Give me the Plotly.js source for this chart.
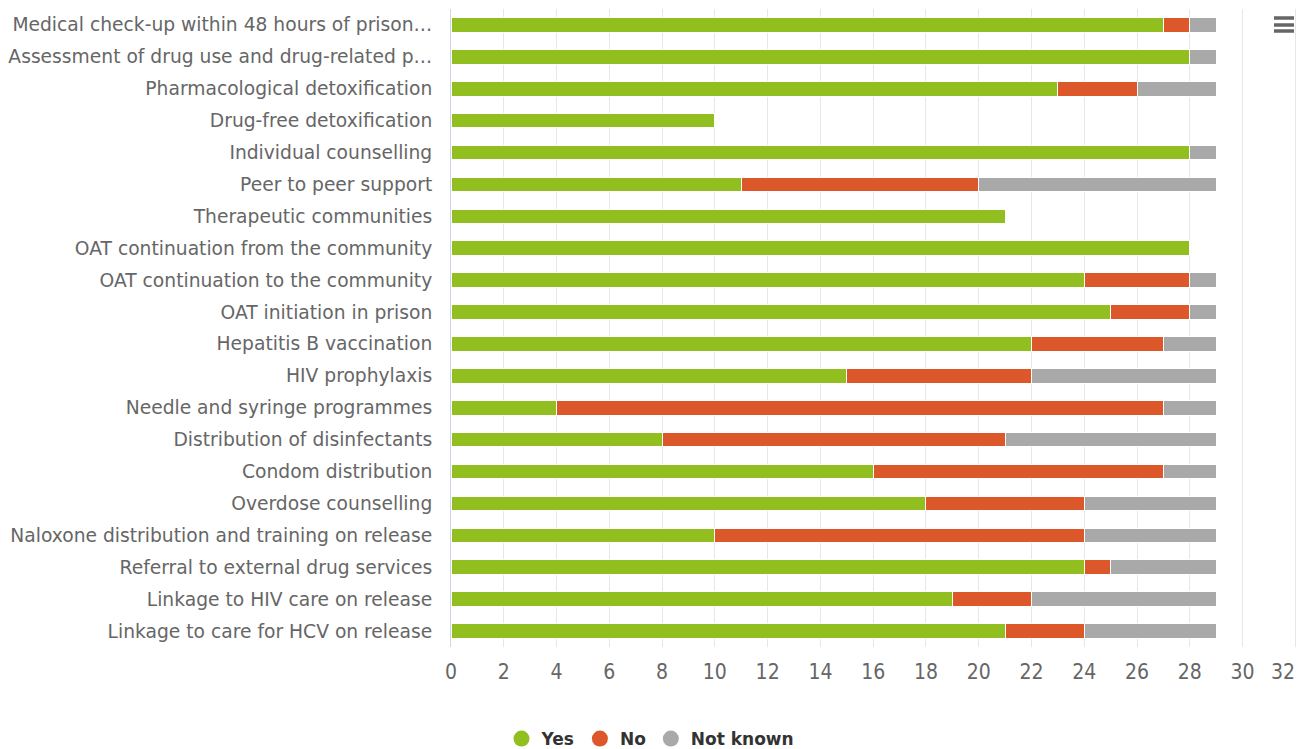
<!DOCTYPE html>
<html><head><meta charset="utf-8">
<script src="https://cdn.plot.ly/plotly-3.0.1.min.js"></script>
<style>html,body{margin:0;padding:0;background:#fff}#chart{width:1301px;height:749px}</style>
</head><body><div id="chart"></div>
<script>
const categories = [
 "Medical check-up within 48 hours of prison…",
 "Assessment of drug use and drug-related p…",
 "Pharmacological detoxification",
 "Drug-free detoxification",
 "Individual counselling",
 "Peer to peer support",
 "Therapeutic communities",
 "OAT continuation from the community",
 "OAT continuation to the community",
 "OAT initiation in prison",
 "Hepatitis B vaccination",
 "HIV prophylaxis",
 "Needle and syringe programmes",
 "Distribution of disinfectants",
 "Condom distribution",
 "Overdose counselling",
 "Naloxone distribution and training on release",
 "Referral to external drug services",
 "Linkage to HIV care on release",
 "Linkage to care for HCV on release"
];
const yes      = [27,28,23,10,28,11,21,28,24,25,22,15, 4, 8,16,18,10,24,19,21];
const no       = [ 1, 0, 3, 0, 0, 9, 0, 0, 4, 3, 5, 7,23,13,11, 6,14, 1, 3, 3];
const notKnown = [ 1, 1, 3, 0, 1, 9, 0, 0, 1, 1, 2, 7, 2, 8, 2, 5, 5, 4, 7, 5];
const seriesNames = ["Yes","No","Not known"];
const colors = ["#92BF20","#DC582A","#A9A9A9"];
const xTicks = [0,2,4,6,8,10,12,14,16,18,20,22,24,26,28,30,32];

const data = [];
[yes,no,notKnown].forEach((vals,i)=>{
  data.push({type:'bar',orientation:'h',y:categories,x:vals,name:seriesNames[i],
    marker:{color:colors[i],line:{color:'#ffffff',width:1}},width:0.46,showlegend:false,
    hoverinfo:'x+name'});
});
seriesNames.forEach((n,i)=>{
  data.push({type:'scatter',mode:'markers',x:[null],y:[categories[0]],name:n,
    marker:{symbol:'circle',size:18,color:colors[i]},showlegend:true,hoverinfo:'skip'});
});

const lastTick = xTicks[xTicks.length-1];
const tickFont = {family:'"Liberation Sans Narrow","DejaVu Sans Condensed",sans-serif',size:21,color:'#666666'};
const layout = {
  width:1301,height:749,
  margin:{l:451,r:3,t:9,b:102},
  barmode:'stack',
  paper_bgcolor:'#fff',plot_bgcolor:'#fff',
  font:{family:'"DejaVu Sans", sans-serif',color:'#666666'},
  xaxis:{range:[0,32.1],tickvals:xTicks,ticktext:xTicks.map(v=>v===lastTick?'':String(v)),showgrid:true,gridcolor:'#e6e6e6',gridwidth:1,
    zeroline:false,showline:false,ticks:'',tickfont:tickFont,
    ticklabelstandoff:10,fixedrange:true},
  yaxis:{range:[19.5,-0.5],type:'category',showgrid:false,zeroline:false,showline:true,linecolor:'#ccd6eb',linewidth:1,
    ticks:'',tickfont:{family:'"DejaVu Sans", sans-serif',size:18.7,color:'#666666'},ticklabelstandoff:14,fixedrange:true},
  legend:{orientation:'h',x:0.5,xanchor:'center',xref:'container',y:10/749,yref:'container',yanchor:'middle',
    font:{family:'"DejaVu Sans", sans-serif',size:17,color:'#333333',weight:'bold'},itemsizing:'trace',itemwidth:30,traceorder:'normal'},
  annotations:[{xref:'x',yref:'paper',x:lastTick,y:0,yshift:-25,xanchor:'right',yanchor:'middle',xshift:2,showarrow:false,
    text:String(lastTick),font:tickFont}],
  shapes:[18,25,31].map(py=>({type:'line',xref:'paper',yref:'paper',x0:(1274-451)/847,x1:(1294-451)/847,
    y0:1-(py-9)/638,y1:1-(py-9)/638,line:{color:'#666666',width:3.5}})),
  hovermode:'closest'
};
Plotly.newPlot('chart',data,layout,{displayModeBar:false,responsive:false});
</script></body></html>
